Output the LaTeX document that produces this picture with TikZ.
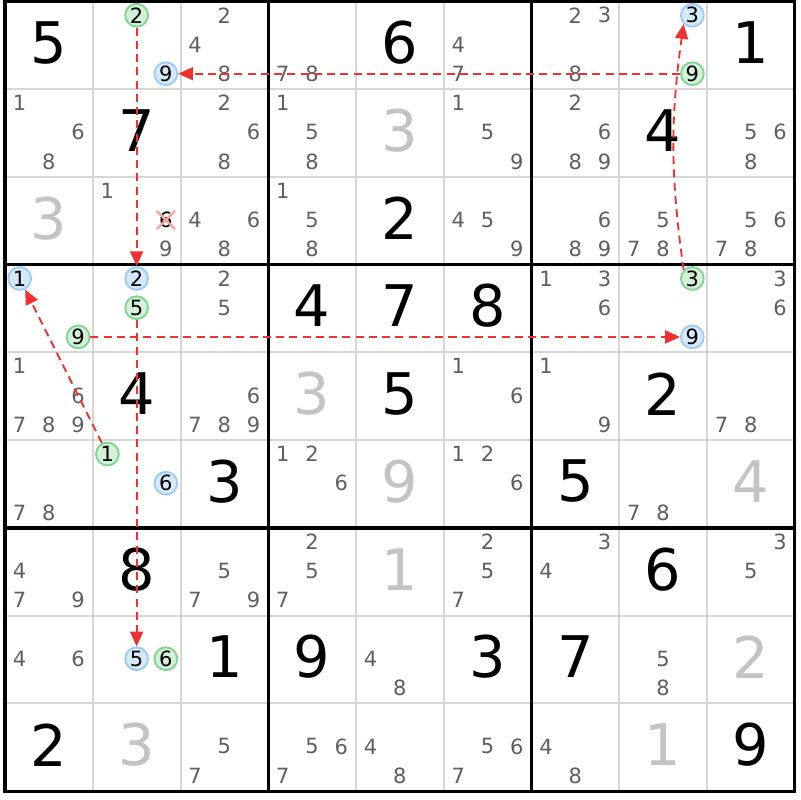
\documentclass[tikz,border=0pt]{standalone}
\usepackage{fontspec}
\setmainfont{DejaVu Sans}
\usetikzlibrary{arrows.meta,shapes.misc}
\definecolor{candgray}{HTML}{5F5F5F}
\definecolor{solvedgray}{HTML}{C3C3C3}
\definecolor{thingrid}{HTML}{D6D6D6}
\definecolor{linkred}{HTML}{F23030}
\definecolor{onfill}{HTML}{D6E9FB}
\definecolor{ondraw}{HTML}{9CCBF6}
\definecolor{offfill}{HTML}{D3F1D8}
\definecolor{offdraw}{HTML}{7DD590}
\definecolor{crosspink}{HTML}{F5A5A5}

\begin{document}
\begin{tikzpicture}[
  given/.style={text=black,font=\fontsize{18.6}{20}\selectfont,inner sep=0pt},
  solved/.style={given,text=solvedgray},
  cand/.style={text=candgray,font=\fontsize{6.8}{7}\selectfont,inner sep=0pt},
  bluecand/.style={circle,draw=ondraw,fill=onfill,line width=0.6pt,minimum size=0.26cm,inner sep=0pt,text=black,font=\fontsize{6.8}{7}\selectfont},
  greencand/.style={bluecand,draw=offdraw,fill=offfill},
  link/.style={draw=linkred,line width=0.6pt,dash pattern=on 2.6pt off 1.7pt,-{Triangle[length=4.8pt,width=4.2pt]}}
]

  \fill[white] (-0.057,0.017) rectangle (9.060,-9.100);
  \useasboundingbox (-0.057,0.017) rectangle (9.060,-9.100);

  \draw[thingrid,line width=0.65pt,step=1] (0,-9) grid (9,0);
  \draw[line width=1pt] (3,0) -- (3,-9);
  \draw[line width=1pt] (6,0) -- (6,-9);
  \draw[line width=1pt] (0,-3) -- (9,-3);
  \draw[line width=1pt] (0,-6) -- (9,-6);
  \draw[line width=1pt] (0,0) rectangle (9,-9);

  \foreach \row/\col/\n in {1/1/5,1/5/6,1/9/1,2/2/7,2/8/4,3/5/2,4/4/4,4/5/7,4/6/8,
    5/2/4,5/5/5,5/8/2,6/3/3,6/7/5,7/2/8,7/8/6,8/3/1,8/4/9,8/6/3,8/7/7,9/1/2,9/9/9}
    \node[given] (g\row\col) at (\col-0.5,0.53-\row) {\n};

  \foreach \row/\col/\n in {2/5/3,3/1/3,5/4/3,6/5/9,6/9/4,7/5/1,8/9/2,9/2/3,9/8/1}
    \node[solved] (g\row\col) at (\col-0.5,0.53-\row) {\n};

  \foreach \row/\col/\ns in {1/3/{2,4,8},1/4/{7,8},1/6/{4,7},1/7/{2,3,8},
    2/1/{1,6,8},2/3/{2,6,8},2/4/{1,5,8},2/6/{1,5,9},2/7/{2,6,8,9},2/9/{5,6,8},
    3/2/{1,9},3/3/{4,6,8},3/4/{1,5,8},3/6/{4,5,9},3/7/{6,8,9},3/8/{5,7,8},3/9/{5,6,7,8},
    4/3/{2,5},4/7/{1,3,6},4/9/{3,6},
    5/1/{1,6,7,8,9},5/3/{6,7,8,9},5/6/{1,6},5/7/{1,9},5/9/{7,8},
    6/1/{7,8},6/4/{1,2,6},6/6/{1,2,6},6/8/{7,8},
    7/1/{4,7,9},7/3/{5,7,9},7/4/{2,5,7},7/6/{2,5,7},7/7/{3,4},7/9/{3,5},
    8/1/{4,6},8/5/{4,8},8/8/{5,8},
    9/3/{5,7},9/4/{5,6,7},9/5/{4,8},9/6/{5,6,7},9/7/{4,8}}
    \foreach \n in \ns {
      \pgfmathsetmacro\kx{\col-1+(mod(\n-1,3)+0.5)/3}
      \pgfmathsetmacro\ky{1-\row-(int((\n-1)/3)+0.5)/3+0.01}
      \node[cand] (r\row c\col n\n) at (\kx,\ky) {\n};
    }

  \node[cand,cross out,draw=crosspink,line width=0.8pt,minimum size=0.18cm,text=black] (r3c2n6) at (1.833,-2.49) {6};

  \node[greencand] (r1c2n2) at (1.5,-0.157) {2};
  \node[bluecand] (r1c2n9) at (1.833,-0.823) {9};
  \node[bluecand] (r1c8n3) at (7.833,-0.157) {3};
  \node[greencand] (r1c8n9) at (7.833,-0.823) {9};
  \node[bluecand] (r4c1n1) at (0.167,-3.157) {1};
  \node[greencand] (r4c1n9) at (0.833,-3.823) {9};
  \node[bluecand] (r4c2n2) at (1.5,-3.157) {2};
  \node[greencand] (r4c2n5) at (1.5,-3.49) {5};
  \node[greencand] (r4c8n3) at (7.833,-3.157) {3};
  \node[bluecand] (r4c8n9) at (7.833,-3.823) {9};
  \node[greencand] (r6c2n1) at (1.167,-5.157) {1};
  \node[bluecand] (r6c2n6) at (1.833,-5.49) {6};
  \node[bluecand] (r8c2n5) at (1.5,-7.49) {5};
  \node[greencand] (r8c2n6) at (1.833,-7.49) {6};

  \draw[link] (r1c2n2) -- (r4c2n2);
  \draw[link] (r4c2n5) -- (r8c2n5);
  \draw[link] (r1c8n9) -- (r1c2n9);
  \draw[link] (r4c8n3.north west) to[bend left=8] (r1c8n3.south west);
  \draw[link] (r4c1n9) -- (r4c8n9);
  \draw[link] (r6c2n1) -- (r4c1n1);
\end{tikzpicture}
\end{document}
